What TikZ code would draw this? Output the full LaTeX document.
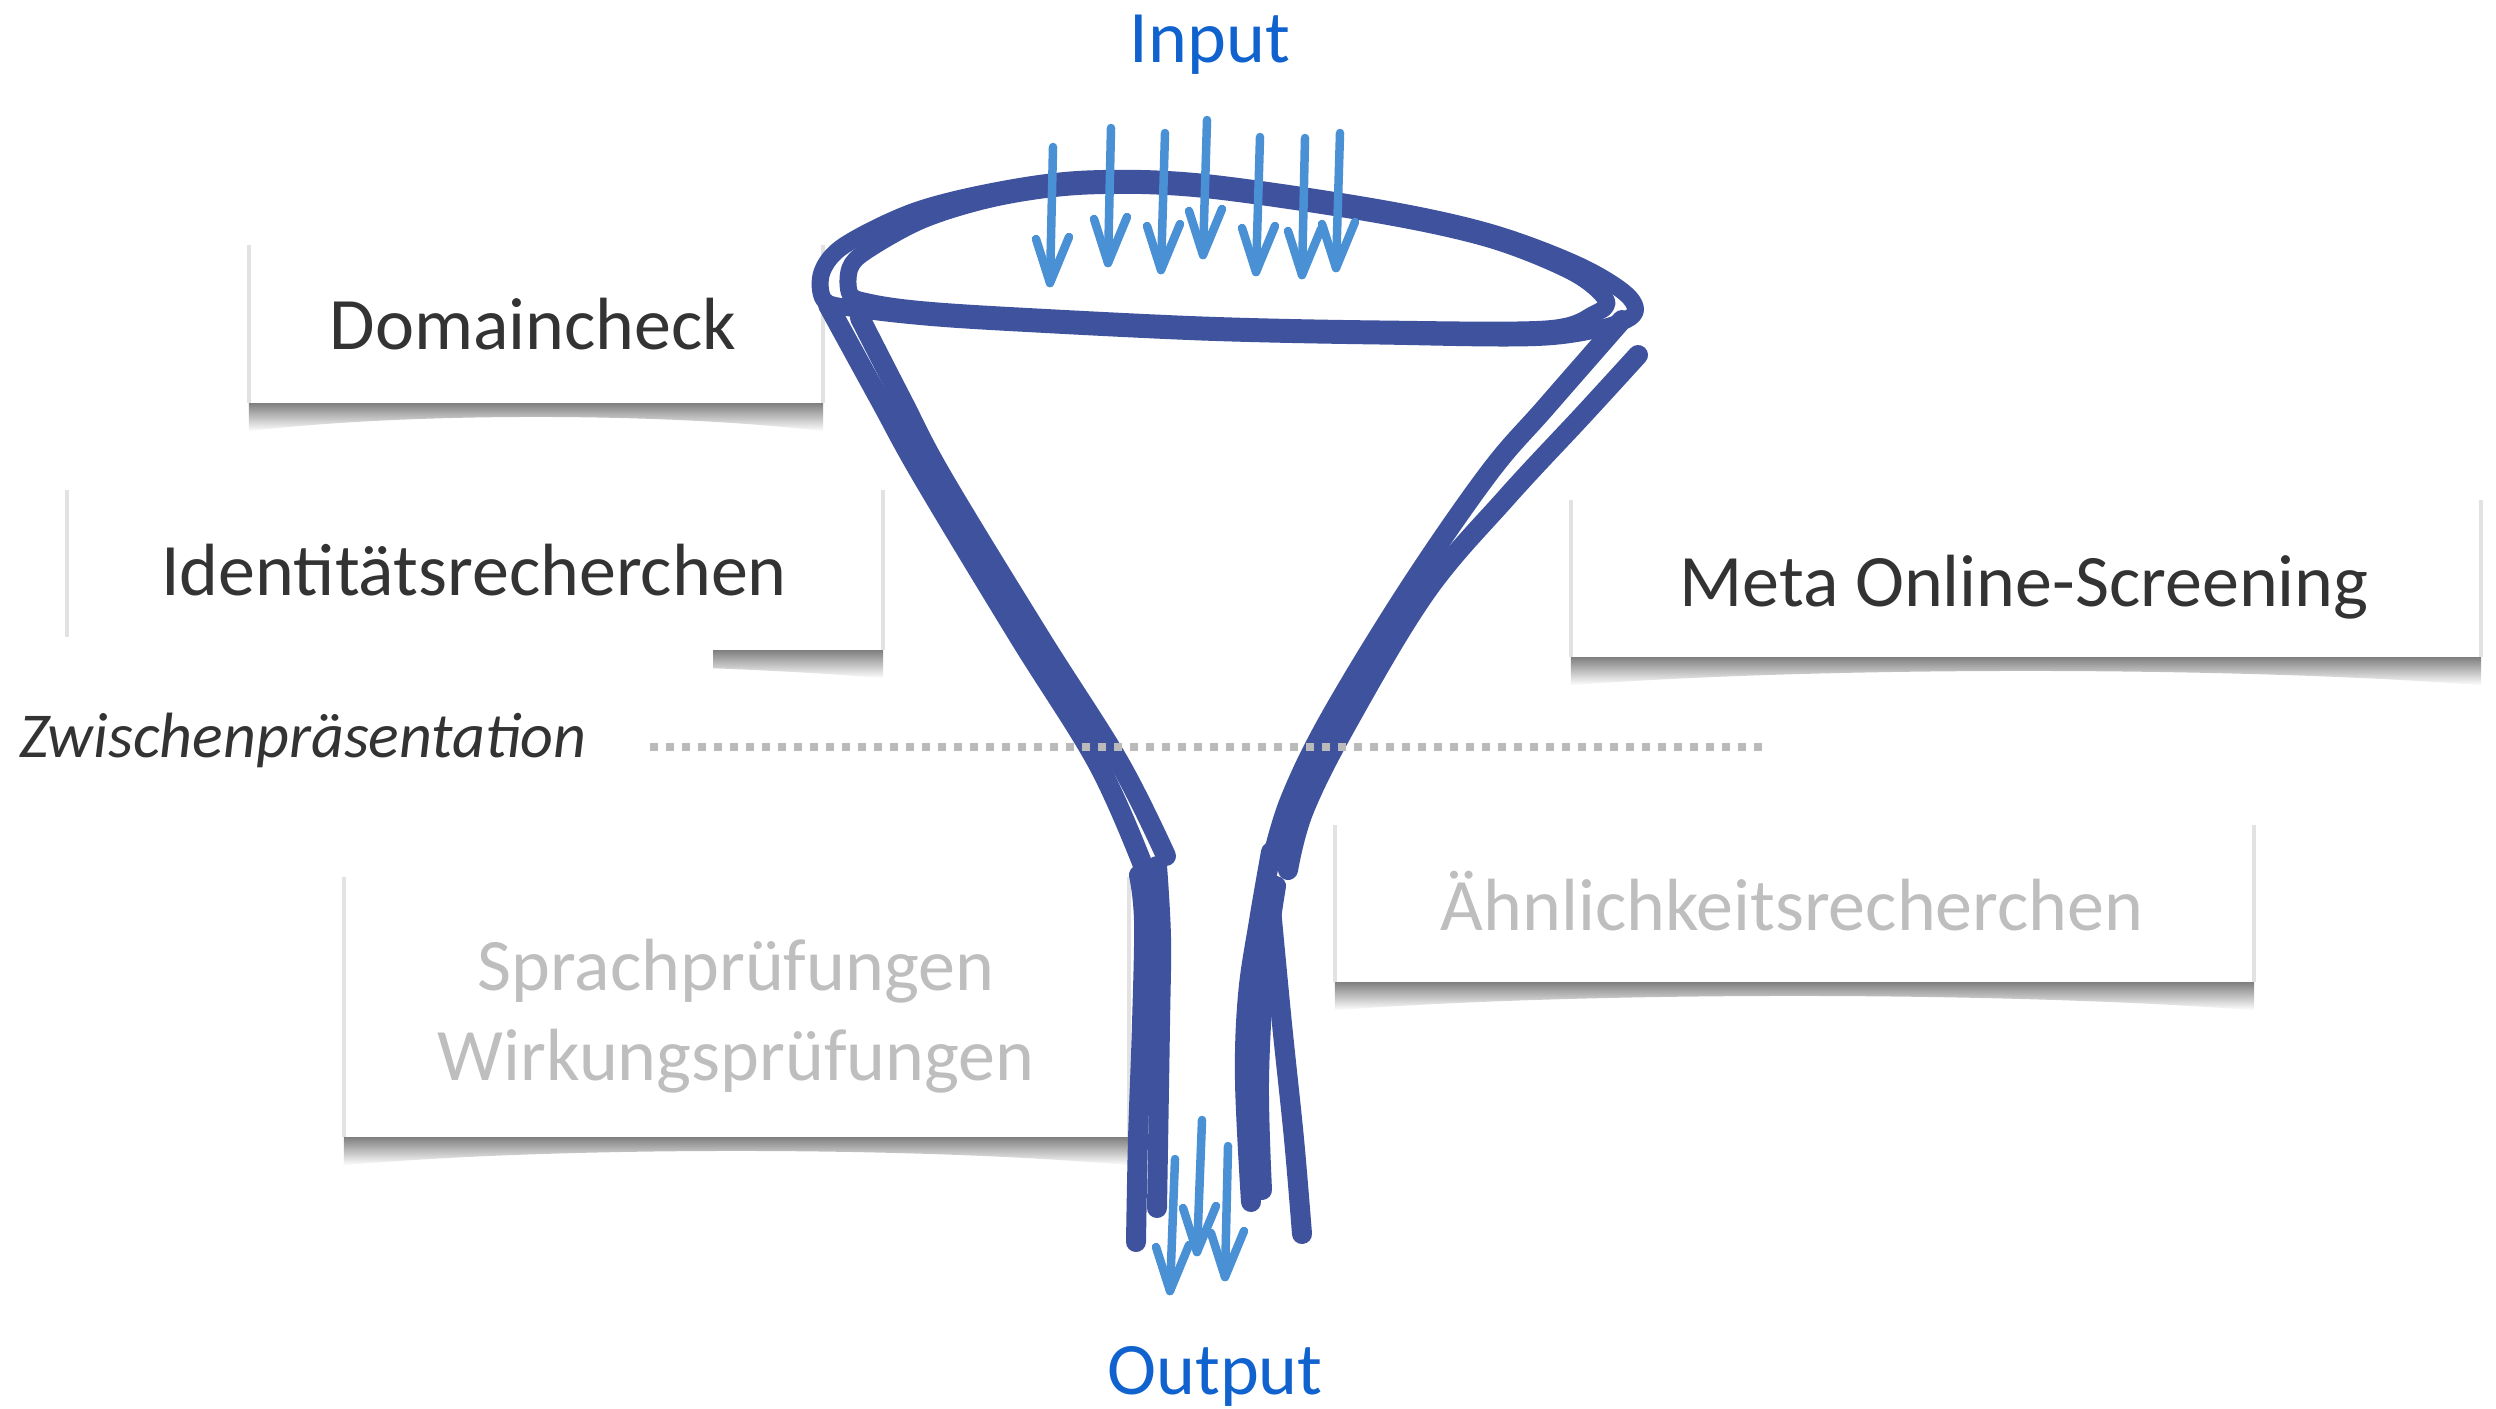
\documentclass[tikz,border=0pt]{standalone}
\usepackage{fontspec}
\setmainfont{Carlito}
\usetikzlibrary{calc}

\definecolor{funnelblue}{RGB}{62,82,158}
\definecolor{arrowblue}{RGB}{74,144,212}
\definecolor{titleblue}{RGB}{16,98,206}
\definecolor{darktext}{RGB}{51,51,51}
\definecolor{paletext}{RGB}{190,190,190}
\definecolor{dotgray}{RGB}{186,186,186}
\definecolor{edgegray}{RGB}{226,226,226}

% side edges and curved drop shadow of a card
\newcommand\cardtrim[1]{%
  \draw[edgegray, line width=4pt] (#1.south west) -- (#1.north west);
  \draw[edgegray, line width=4pt] (#1.south east) -- (#1.north east);
  \shade[top color=black!50, bottom color=white]
    (#1.south west) -- (#1.south east) -- ($(#1.south east)+(0,28)$)
    .. controls ($(#1.south east)!0.55!(#1.south)+(0,9)$)
            and ($(#1.south west)!0.55!(#1.south)+(0,9)$) .. ($(#1.south west)+(0,28)$)
    -- cycle;}

% hand-drawn arrow: shaft top (#1,#2), tip (#3,#4)
\newcommand\flowarrow[4]{%
  \draw[inflow] (#1,#2) -- (#3,#4);
  \draw[inflow] (#3,#4) ++(-14,-44) -- (#3,#4) -- ++(19,-46);}

\begin{document}
\begin{tikzpicture}[x=1pt,y=-1pt,
  card/.style={fill=white, inner sep=0pt},
  cardtext/.style={anchor=base, inner sep=0pt, font=\fontsize{74}{89}\selectfont},
  rim/.style={draw=funnelblue, line width=17pt, line cap=round, line join=round},
  stroke/.style={draw=funnelblue, line width=20pt, line cap=round, line join=round},
  inflow/.style={draw=arrowblue, line width=8.5pt, line cap=round, line join=round},
]
\useasboundingbox[fill=white] (0,0) rectangle (2496,1408);

% cards
\node[card, minimum width=574pt, minimum height=158pt] (dom)    at (536,324)    {};
\node[card, minimum width=816pt, minimum height=160pt] (ident)  at (475,570)    {};
\node[card, minimum width=910pt, minimum height=157pt] (meta)   at (2026,578.5) {};
\node[card, minimum width=919pt, minimum height=157pt] (aehn)   at (1794.5,903.5) {};
\node[card, minimum width=785pt, minimum height=260pt] (sprach) at (736.5,1007) {};
\cardtrim{dom}
\cardtrim{ident}
\cardtrim{meta}
\cardtrim{aehn}
\cardtrim{sprach}

% plain band behind the milestone label
\fill[white] (0,637) rectangle (713,830);

% card labels
\node[cardtext, text=darktext] (domtext)   at (533,349)  {Domaincheck};
\node[cardtext, text=darktext] (identtext) at (474,595)  {Identitätsrecherchen};
\node[cardtext, text=darktext] (metatext)  at (2024,606) {Meta Online-Screening};
\node[cardtext, text=paletext] (aehntext)  at (1792,930) {Ähnlichkeitsrecherchen};
\node[cardtext, text=paletext] (sprachA)   at (736,990)  {Sprachprüfungen};
\node[cardtext, text=paletext] (sprachB)   at (736,1080) {Wirkungsprüfungen};

\node[anchor=base west, inner sep=0pt, text=darktext,
      font=\fontsize{64}{76}\selectfont\itshape] (zwischen) at (19,757) {Zwischenpräsentation};

% funnel rim, drawn twice
\draw[rim] plot[smooth cycle, tension=0.55] coordinates {
  (824,300) (822,272) (845,245) (915,211) (1000,190) (1087,179) (1200,182)
  (1374,207) (1489,232) (1580,266) (1630,298) (1626,320) (1546,337)
  (1380,336) (1202,332) (1000,322) (915,316) (850,308)};
\draw[rim] plot[smooth cycle, tension=0.55] coordinates {
  (850,294) (850,268) (868,250) (925,219) (1000,197) (1087,186) (1200,189)
  (1374,214) (1489,239) (1572,272) (1606,300) (1594,314) (1546,329)
  (1380,329) (1202,325) (1000,315) (915,309) (868,302)};

% funnel sides
\draw[stroke] plot[smooth, tension=0.6] coordinates {
  (828,305) (880,400) (923,478) (1019,637) (1098,764) (1144,868)};
\draw[stroke] plot[smooth, tension=0.6] coordinates {
  (860,318) (902,400) (943,478) (1040,637) (1119,762) (1166,856)};
\draw[stroke] plot[smooth, tension=0.6] coordinates {
  (1622,320) (1546,407) (1489,473) (1408,590) (1330,718) (1290,800) (1272,860)};
\draw[stroke] plot[smooth, tension=0.6] coordinates {
  (1638,355) (1584,414) (1506,498) (1426,592) (1348,722) (1304,810) (1288,870)};

% spout
\draw[stroke] plot[smooth, tension=0.6] coordinates {
  (1139,875) (1144,921) (1142,1024) (1138,1139) (1136,1242)};
\draw[stroke] plot[smooth, tension=0.6] coordinates {
  (1157,866) (1161,938) (1160,1024) (1157,1208)};
\draw[stroke] plot[smooth, tension=0.6] coordinates {
  (1271,852) (1259,921) (1248,995) (1245,1081) (1251,1202)};
\draw[stroke] plot[smooth, tension=0.6] coordinates {
  (1276,886) (1265,967) (1259,1081) (1262,1190)};
\draw[stroke] plot[smooth, tension=0.6] coordinates {
  (1271,909) (1282,1024) (1294,1139) (1302,1234)};

% incoming arrows
\flowarrow{1053}{147}{1050}{283}
\flowarrow{1111}{128}{1108}{263}
\flowarrow{1165}{133}{1161}{270}
\flowarrow{1207}{120}{1203}{255}
\flowarrow{1260}{137}{1256}{272}
\flowarrow{1305}{138}{1302}{275}
\flowarrow{1340}{133}{1336}{268}

% outgoing arrows
\flowarrow{1175}{1159}{1170}{1291}
\flowarrow{1202}{1120}{1197}{1252}
\flowarrow{1228}{1146}{1225}{1277}

% milestone line
\coordinate (msL) at (650,747);
\coordinate (msR) at (1762,747);
\draw[dotgray, line width=8pt, dash pattern=on 8pt off 8pt] (msL) -- (msR);

% titles
\node[anchor=base, inner sep=0pt, text=titleblue, font=\fontsize{74}{89}\selectfont] (input)  at (1210,62)   {Input};
\node[anchor=base, inner sep=0pt, text=titleblue, font=\fontsize{74}{89}\selectfont] (output) at (1215,1394) {Output};
\end{tikzpicture}
\end{document}
